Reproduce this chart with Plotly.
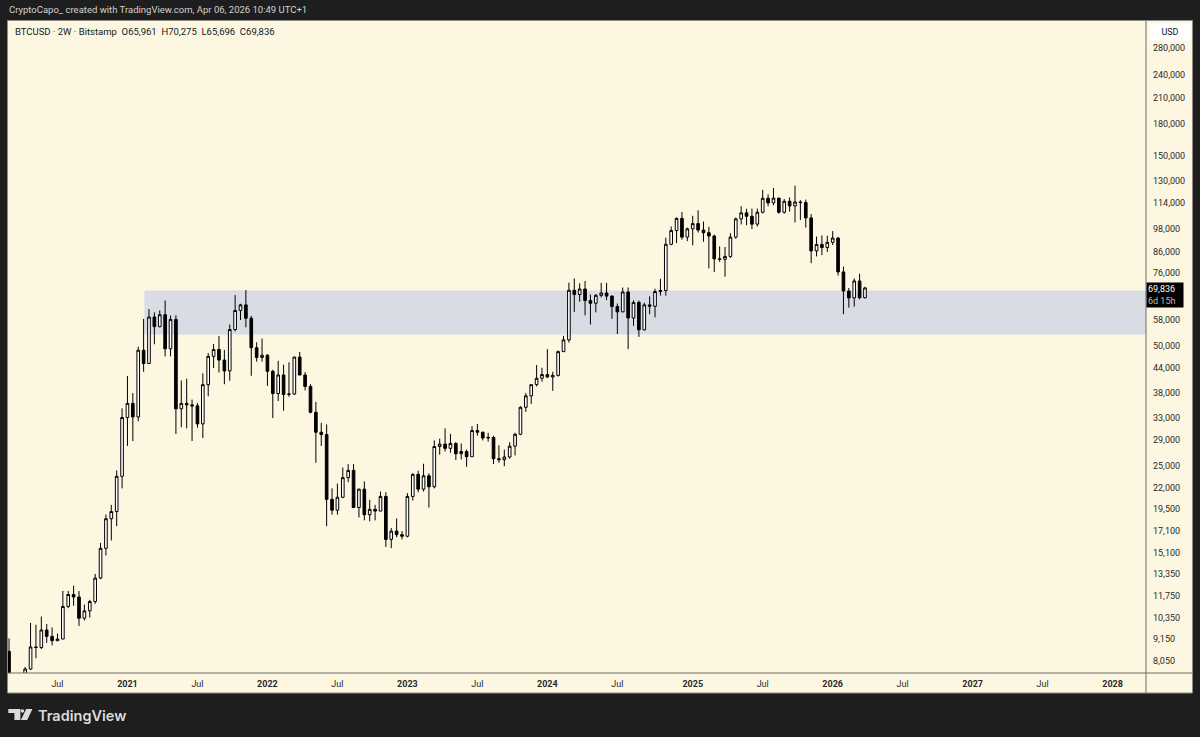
import datetime as dt
import math
import plotly.graph_objects as go

# TradingView 2W bars restart on the first Monday of each year
def first_monday(year):
    d = dt.date(year, 1, 1)
    return d + dt.timedelta(days=(7 - d.weekday()) % 7)

first_bar = dt.date(2020, 3, 2)
bar_dates = []
for year in range(2020, 2029):
    d, nxt = first_monday(year), first_monday(year + 1)
    while d < nxt:
        if d >= first_bar:
            bar_dates.append(d)
        d += dt.timedelta(days=14)

# BTCUSD 2W, Bitstamp
opens = [
    8530, 5360, 5880, 6900, 7700, 8750, 8720, 9650, 9300, 9070, 9160, 11060, 11850, 11680, 10330, 10780,
    11380, 13030, 15480, 18370, 19150, 23480, 33000, 35800, 33100, 48700, 45100, 59000, 55800, 59800, 49100, 58200,
    34700, 35800, 35500, 35300, 31800, 39900, 47000, 48900, 46000, 43200, 54900, 61300, 63300, 58600, 49400, 46700,
    47300, 43100, 37900, 42200, 37700, 37800, 46800, 42200, 39500, 34000, 30300, 29900, 20550, 19300, 20800, 23300,
    24300, 19600, 21800, 18800, 19400, 19200, 20900, 16300, 17100, 16750, 16600, 20900, 23750, 21800, 23550, 22100,
    27900, 28300, 27600, 28400, 26750, 27100, 26300, 30600, 30300, 29300, 29400, 26000, 25850, 26250, 27950, 29950,
    35000, 37400, 39900, 41400, 42300, 41700, 42100, 48300, 51700, 68900, 67200, 69400, 64900, 63900, 66900, 67800,
    66600, 62700, 60800, 68200, 58700, 64200, 54800, 63300, 62800, 68400, 68800, 89900, 97300, 104400, 93700, 98300,
    101300, 97600, 96100, 94300, 82600, 82400, 83800, 93700, 104100, 107800, 105700, 101000, 108200, 117300, 114200, 117400,
    108200, 115300, 112200, 114800, 114400, 104700, 86500, 89800, 88200, 90900, 93200, 76600, 68600, 65900, 72700, 65961,
]
highs = [
    9190, 6950, 7460, 7790, 10050, 9950, 10430, 9990, 9790, 9450, 12100, 12100, 12470, 12090, 11180, 11490,
    13350, 15970, 18820, 19900, 24300, 34800, 41950, 38000, 49700, 58350, 61800, 60600, 61300, 64900, 59500, 59600,
    40900, 41300, 36600, 35900, 42600, 47900, 50500, 52900, 48800, 56500, 67000, 63700, 69000, 59400, 51000, 52100,
    47600, 43500, 45800, 44800, 45400, 46900, 48200, 42900, 40000, 36100, 32000, 31700, 21900, 22500, 24700, 25200,
    25200, 21850, 22800, 20500, 19900, 21500, 21400, 17400, 18400, 17100, 21300, 23900, 24250, 25250, 23900, 28900,
    29200, 31000, 30000, 28600, 28400, 27400, 31400, 31800, 30400, 30200, 29700, 28100, 27400, 28600, 30200, 35200,
    38000, 39900, 44700, 44000, 49000, 43000, 48600, 52900, 72000, 73800, 71700, 72700, 67200, 67400, 71900, 71900,
    66900, 63800, 70000, 70000, 65000, 64900, 64100, 66500, 69500, 73600, 93400, 99600, 105000, 108300, 99000, 106000,
    109400, 102500, 99500, 95000, 88800, 88500, 95800, 104900, 112000, 110400, 110500, 110500, 123200, 120000, 124500, 117600,
    116800, 117900, 126200, 116000, 116400, 107000, 94000, 94600, 94400, 97000, 93800, 79000, 69800, 73800, 75800, 70275,
]
lows = [
    3850, 4440, 5860, 6550, 7660, 8200, 8640, 8960, 8830, 9050, 9150, 10950, 11100, 9880, 10200, 10370,
    11220, 12950, 14850, 16200, 17600, 21900, 28000, 28800, 32300, 43000, 45000, 50400, 55600, 47000, 47000, 30000,
    31200, 31000, 28800, 31100, 29300, 37300, 43900, 42800, 40000, 40800, 54300, 58000, 55600, 42000, 45600, 45600,
    39600, 32900, 36300, 34300, 37200, 37600, 42100, 38600, 33800, 25400, 28000, 17600, 18800, 18800, 20700, 22700,
    19550, 18500, 18200, 18100, 18200, 19200, 15600, 15500, 16500, 16300, 16500, 20400, 21400, 21500, 19600, 21900,
    26600, 27100, 26900, 25800, 25900, 24800, 26300, 29700, 28900, 28700, 25200, 25400, 24900, 26000, 26500, 29800,
    34100, 35700, 39500, 40600, 41500, 38500, 41800, 48300, 50900, 60800, 64500, 59600, 56500, 60600, 66100, 65100,
    58400, 53500, 60700, 49000, 56100, 52600, 54600, 60000, 58900, 66800, 66800, 89400, 90500, 92300, 91500, 89300,
    96200, 91200, 78200, 76600, 81200, 74500, 83100, 92800, 100800, 100400, 98200, 99600, 107400, 112000, 112700, 107300,
    107300, 108600, 102000, 103500, 99000, 80600, 83800, 84400, 86000, 89500, 75000, 60000, 62300, 62700, 65400, 65696,
]
closes = [
    5360, 5880, 6900, 7700, 8750, 8720, 9650, 9300, 9070, 9160, 11060, 11850, 11680, 10330, 10780, 11380,
    13030, 15480, 18370, 19150, 23480, 33000, 35800, 33100, 48700, 45100, 59000, 55800, 59800, 49100, 58200, 34700,
    35800, 35500, 35300, 31800, 39900, 47000, 48900, 46000, 43200, 54900, 61300, 63300, 58600, 49400, 46700, 47300,
    43100, 37900, 42200, 37700, 37800, 46800, 42200, 39500, 34000, 30300, 29900, 20550, 19300, 20800, 23300, 24300,
    19600, 21800, 18800, 19400, 19200, 20900, 16300, 17100, 16750, 16600, 20900, 23750, 21800, 23550, 22100, 27900,
    28300, 27600, 28400, 26750, 27100, 26300, 30600, 30300, 29300, 29400, 26000, 25850, 26250, 27950, 29950, 35000,
    37400, 39900, 41400, 42300, 41700, 42100, 48300, 51700, 68900, 67200, 69400, 64900, 63900, 66900, 67800, 66600,
    62700, 60800, 68200, 58700, 64200, 54800, 63300, 62800, 68400, 68800, 89900, 97300, 104400, 93700, 98300, 101300,
    97600, 96100, 94300, 82600, 82400, 83800, 93700, 104100, 107800, 105700, 101000, 108200, 117300, 114200, 117400, 108200,
    115300, 112200, 114800, 114400, 104700, 86500, 89800, 88200, 90900, 93200, 76600, 68600, 65900, 72700, 65961, 69836,
]

zone_low, zone_high = 53300, 68800
zone_start = dt.date(2021, 2, 15)

price_ticks = [8050, 9150, 10350, 11750, 13350, 15100, 17100, 19500, 22000, 25000, 29000, 33000, 38000,
               44000, 50000, 58000, 76000, 86000, 98000, 114000, 130000, 150000, 180000, 210000, 240000, 280000]

# time-scale labels sit on the first bar of January / July
time_ticks, time_labels = [], []
for year in range(2020, 2029):
    for month in (1, 7):
        idx = next((i for i, d in enumerate(bar_dates) if d.year == year and d.month == month), None)
        if idx is None or (year, month) > (2028, 1):
            continue
        time_ticks.append(idx)
        time_labels.append("Jul" if month == 7 else f"<b>{year}</b>")

CREAM = "#fdf7e2"
FRAME = "#1e1e1e"
FONT = "Roboto"

# pixel -> paper helpers (plot area is x 8..1146, y 21..673)
def px(x):
    return (x - 8) / 1138

def py(y):
    return (673 - y) / 652

x = list(range(len(closes)))
fig = go.Figure(go.Candlestick(
    x=x, open=opens, high=highs, low=lows, close=closes,
    increasing=dict(line=dict(color="#000000", width=1), fillcolor="#ffffff"),
    decreasing=dict(line=dict(color="#000000", width=1), fillcolor="#000000"),
    hoverinfo="skip",
))

zone_idx = bar_dates.index(zone_start)
shapes = [
    # cream panel behind price + time scales
    dict(type="rect", xref="paper", yref="paper", x0=px(7.5), x1=px(1192.5), y0=py(693), y1=py(20.5),
         fillcolor=CREAM, line=dict(color="#8c8c84", width=1), layer="below"),
    dict(type="rect", xref="x", yref="y", x0=zone_idx + 0.15, x1=1000, y0=zone_low, y1=zone_high,
         fillcolor="#d9dce4", line=dict(width=0), layer="below"),
    # time scale / price scale borders
    dict(type="line", xref="paper", yref="paper", x0=px(7.5), x1=px(1192.5), y0=0, y1=0,
         line=dict(color="#6e6e68", width=1)),
    dict(type="line", xref="paper", yref="paper", x0=1, x1=1, y0=py(693), y1=py(20.5),
         line=dict(color="#6e6e68", width=1)),
]

# TradingView logo
logo = "#dcdcdc"
def path(points):
    return "M " + " L ".join(f"{px(a)},{py(b)}" for a, b in points) + " Z"
shapes += [
    dict(type="path", xref="paper", yref="paper", path=path([(8.3, 709), (20.4, 709), (20.4, 720), (14.4, 720), (14.4, 713), (8.3, 713)]),
         fillcolor=logo, line=dict(width=0)),
    dict(type="circle", xref="paper", yref="paper", x0=px(20.6), x1=px(24.2), y0=py(712.8), y1=py(709.2),
         fillcolor=logo, line=dict(width=0)),
    dict(type="path", xref="paper", yref="paper", path=path([(26.2, 709), (32.4, 709), (27.2, 720), (20.9, 720)]),
         fillcolor=logo, line=dict(width=0)),
]

annotations = [
    dict(xref="paper", yref="paper", x=px(7), y=py(10), xanchor="left", yanchor="middle", showarrow=False,
         text="CryptoCapo_ created with TradingView.com, Apr 06, 2026 10:49 UTC+1",
         font=dict(family=FONT, size=9.5, color="#d2d2d2")),
    dict(xref="paper", yref="paper", x=px(13), y=py(31), xanchor="left", yanchor="middle", showarrow=False,
         text="BTCUSD · 2W · Bitstamp  O65,961  H70,275  L65,696  C69,836",
         font=dict(family=FONT, size=9.5, color="#131722")),
    dict(xref="paper", yref="paper", x=px(1169.5), y=py(32), xanchor="center", yanchor="middle", showarrow=False,
         text="USD", bgcolor="#ffffff", width=38, height=14,
         font=dict(family=FONT, size=9, color="#131722")),
    dict(xref="paper", yref="y", x=1, y=math.log10(closes[-1]), xanchor="left", yanchor="top", yshift=6,
         showarrow=False, align="left", bgcolor="#000000", borderpad=1, width=34,
         text=f"{closes[-1]:,}<br><span style='color:#bdbdbd'>6d 15h</span>",
         font=dict(family=FONT, size=9, color="#ffffff")),
    dict(xref="paper", yref="paper", x=px(36), y=py(715), xanchor="left", yanchor="middle", showarrow=False,
         text="TradingView", font=dict(family="Inter", size=14.5, color=logo, weight=600)),
]

fig.update_layout(
    width=1200, height=737,
    margin=dict(l=8, r=54, t=21, b=64),
    paper_bgcolor=FRAME, plot_bgcolor=CREAM,
    showlegend=False, boxgap=0.3,
    shapes=shapes, annotations=annotations,
    xaxis=dict(range=[-0.19, 211.2], rangeslider=dict(visible=False), showgrid=False, zeroline=False,
               tickmode="array", tickvals=time_ticks, ticktext=time_labels, ticks="", ticklabelstandoff=4,
               tickfont=dict(family=FONT, size=9, color="#2a2a2a"), fixedrange=True),
    yaxis=dict(type="log", side="right", range=[3.8765, 5.5147], showgrid=False, zeroline=False,
               tickmode="array", tickvals=price_ticks, ticktext=[f"{v:,}" for v in price_ticks],
               ticks="", ticklabelstandoff=6, tickfont=dict(family=FONT, size=9, color="#2a2a2a")),
)

fig.write_html("out.html", config={"displayModeBar": False},
               post_script="document.body.style.margin='0';document.body.style.background='#1e1e1e';")
